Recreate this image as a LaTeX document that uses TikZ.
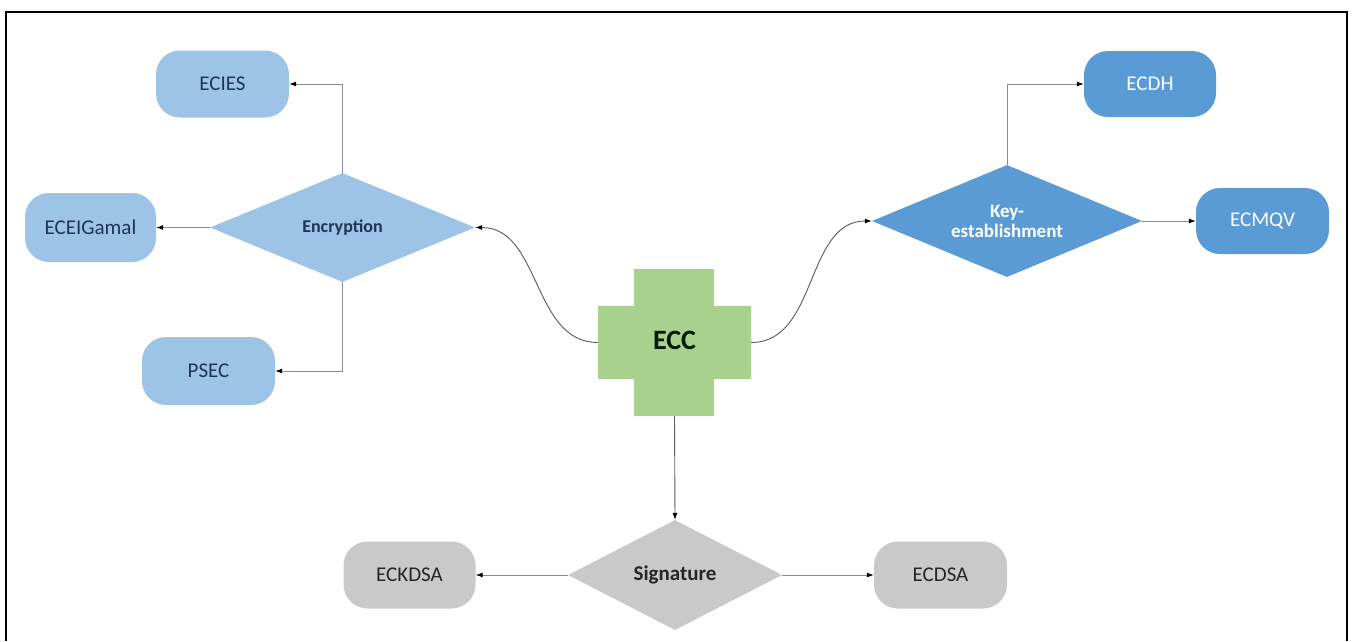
\documentclass[tikz,border=0pt]{standalone}
\usepackage{fontspec}
\setmainfont{Carlito}
\usetikzlibrary{shapes.geometric,arrows.meta}
\definecolor{lblue}{HTML}{9DC3E6}
\definecolor{dblue}{HTML}{5B9BD5}
\definecolor{egreen}{HTML}{A9D18E}
\definecolor{sgrey}{HTML}{C9C9C9}
\definecolor{navy}{HTML}{1F3556}
\definecolor{linec}{HTML}{8C8C8C}
\tikzset{
  box/.style={rectangle, rounded corners=24pt, minimum width=133pt, minimum height=67pt, inner sep=0pt, font=\fontsize{21}{24}\selectfont},
  dia/.style={diamond, inner sep=0pt, font=\bfseries\fontsize{18}{19}\selectfont, align=center},
  encbox/.style={box, fill=lblue, text=navy},
  keybox/.style={box, fill=dblue, text=white},
  sigbox/.style={box, fill=sgrey, text=black!85},
  conn/.style={draw=linec, line width=0.9pt, -{Latex[length=7pt,width=5pt,color=black]}},
}
\begin{document}
\begin{tikzpicture}[x=1pt,y=-1pt]
\useasboundingbox (0,0) rectangle (1352,641);
% frame (open at bottom)
\draw[line width=2pt] (6,641) -- (6,12) -- (1347,12) -- (1347,641);

% ECC cross
\node[minimum width=153pt, minimum height=147pt, inner sep=0pt] (ecc) at (674.5,342.5) {};
\fill[egreen] (634,269) -- (714,269) -- (714,306) -- (751,306) -- (751,379) -- (714,379) -- (714,416) -- (634,416) -- (634,379) -- (598,379) -- (598,306) -- (634,306) -- cycle;
\node[font=\bfseries\fontsize{28}{30}\selectfont, text=black!90!green] (ecclabel) at ([yshift=2pt]ecc.center) {ECC};

% Encryption group
\node[dia, fill=lblue, text=navy, minimum width=265pt, minimum height=109pt] (enc) at (342.5,227.5) {Encryption};
\node[encbox] (ecies) at (222.5,84) {ECIES};
\node[encbox, minimum width=131pt, minimum height=69pt] (gam) at (90.5,227.5) {ECEIGamal};
\node[encbox, minimum height=68pt] (psec) at (208.5,371) {PSEC};

% Key-establishment group
\node[dia, fill=dblue, minimum width=270pt, minimum height=112pt,
      label={[font=\bfseries\fontsize{19}{20}\selectfont, text=white, align=center]center:Key-\\establishment}] (key) at (1007,221) {};
\node[keybox, minimum width=132pt, minimum height=66pt] (ecdh) at (1150,84) {ECDH};
\node[keybox, minimum height=66pt] (ecmqv) at (1262.5,221) {ECMQV};

% Signature group
\node[dia, fill=sgrey, text=black!85, minimum width=214pt, minimum height=110pt, font=\bfseries\fontsize{21}{22}\selectfont] (sig) at (675,575) {Signature};
\node[sigbox, minimum width=132pt] (eckdsa) at (409.5,575) {ECKDSA};
\node[sigbox] (ecdsa) at (940.5,575) {ECDSA};

% connectors
\draw[conn] (enc.north) |- (ecies.east);
\draw[conn] (enc.west) -- (gam.east);
\draw[conn] (enc.south) |- (psec.east);
\draw[conn, draw=black!65] (ecc.west) to[out=180,in=0] (enc.east);
\draw[conn, draw=black!65] (ecc.east) to[out=0,in=180] (key.west);
\draw[conn] (key.north) |- (ecdh.west);
\draw[conn] (key.east) -- (ecmqv.west);
\draw[conn, draw=black!65] (ecc.south) -- (sig.north);
\draw[conn] (sig.west) -- (eckdsa.east);
\draw[conn] (sig.east) -- (ecdsa.west);
\end{tikzpicture}
\end{document}
